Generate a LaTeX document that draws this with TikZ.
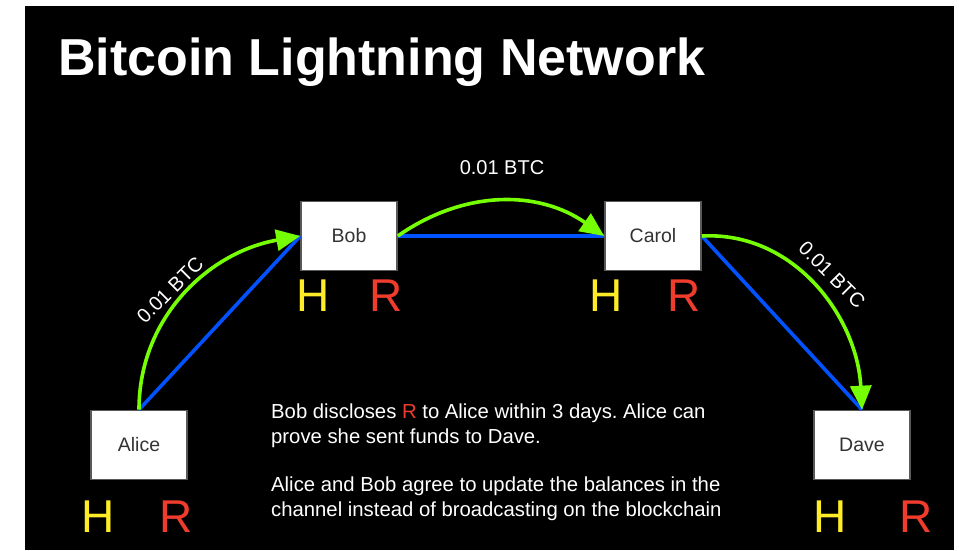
\documentclass[tikz,border=0pt]{standalone}
\usepackage{fontspec}
\setmainfont{Liberation Sans}
\usetikzlibrary{arrows.meta}
\definecolor{paygreen}{RGB}{118,255,3}
\definecolor{chanblue}{RGB}{0,82,255}
\definecolor{hashyellow}{RGB}{255,236,40}
\definecolor{secretred}{RGB}{240,60,45}
\frenchspacing
\begin{document}
\begin{tikzpicture}[
            x=1pt, y=1pt,
            box/.style={rectangle, draw=black!65, line width=1.6pt, fill=white, minimum width=96pt, minimum height=69pt, text=black!80, font=\fontsize{19.5}{21}\selectfont},
            channel/.style={chanblue, line width=3.6pt},
            arrow/.style={-{Triangle[length=24pt, width=21pt]}, paygreen, line width=3.6pt},
            hkey/.style={text=hashyellow, inner sep=0pt, font=\fontsize{46}{46}\selectfont},
            rkey/.style={text=secretred, inner sep=0pt, font=\fontsize{46}{46}\selectfont},
            amount/.style={text=white, inner sep=0pt, font=\fontsize{20}{22}\selectfont}
        ]

        % Slide background
        \useasboundingbox (0,0) rectangle (959,550);
        \fill[white] (0,0) rectangle (959,550);
        \fill[black] (25,0) rectangle (954,544);

        % Title
        \node[anchor=base west, inner sep=0pt, text=white, font=\fontsize{52}{52}\selectfont\bfseries] (title) at (58,474) {Bitcoin Lightning Network};

        % Main nodes
        \node[box] (alice) at (139,105) {Alice};
        \node[box] (bob) at (349,314) {Bob};
        \node[box] (carol) at (653,314) {Carol};
        \node[box] (dave) at (862,105) {Dave};

        % Hash and secret under each node
        \node[hkey] (aliceH) at (98,33) {H};
        \node[rkey] (aliceR) at (176,33) {R};
        \node[hkey] (bobH) at (313,254) {H};
        \node[rkey] (bobR) at (386,254) {R};
        \node[hkey] (carolH) at (606,254) {H};
        \node[rkey] (carolR) at (684,254) {R};
        \node[hkey] (daveH) at (830,33) {H};
        \node[rkey] (daveR) at (916,33) {R};

        % Channels
        \draw[channel] (alice.north) -- (bob.west);
        \draw[channel] (bob.east) -- (carol.west);
        \draw[channel] (carol.east) -- (dave.north);

        % Payment hops
        \draw[arrow] (alice.north) to[out=90, in=190] (bob.west);
        \draw[arrow] (bob.east) to[out=35, in=145] (carol.west);
        \draw[arrow] (carol.east) to[out=3, in=93] (dave.north);

        % Amounts
        \node[amount, rotate=45] (amountAB) at (170,260) {0.01 BTC};
        \node[amount] (amountBC) at (502,382) {0.01 BTC};
        \node[amount, rotate=-45] (amountCD) at (832,275) {0.01 BTC};

        % Notes
        \node[anchor=base west, inner sep=0pt, align=left, text=white, font=\fontsize{20.3}{25}\selectfont] (notes) at (271,34)
            {Bob discloses \textcolor{secretred}{R} to Alice within 3 days. Alice can\\
             prove she sent funds to Dave.\\[23pt]
             Alice and Bob agree to update the balances in the\\
             channel instead of broadcasting on the blockchain};

    \end{tikzpicture}
\end{document}
